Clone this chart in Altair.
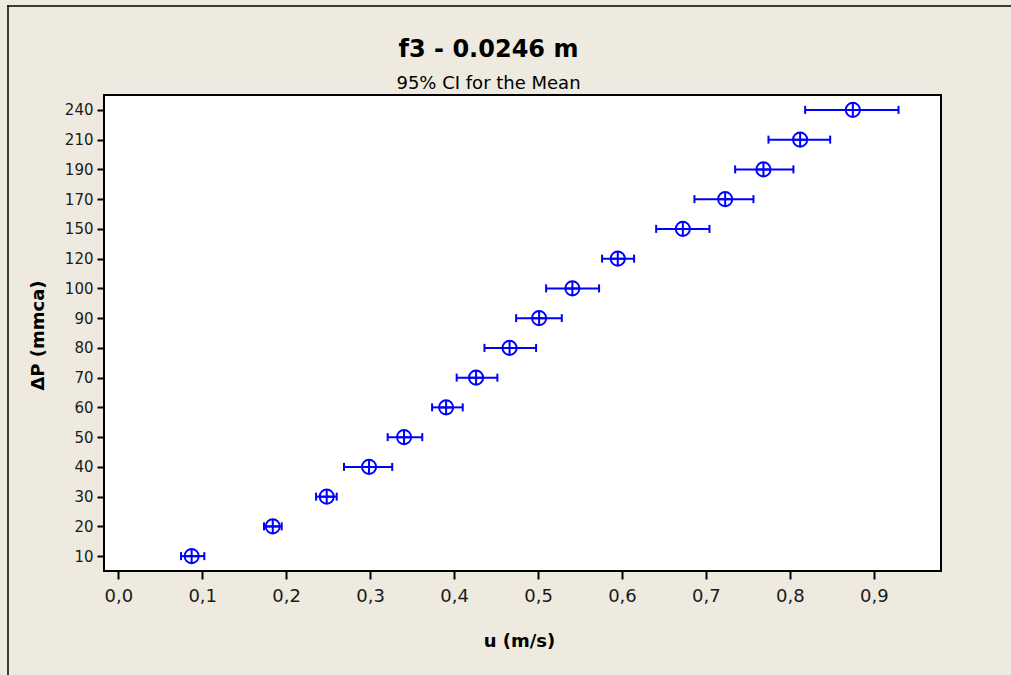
import altair as alt
import pandas as pd

# Delta P levels (mmca) and 95% CI of mean velocity u (m/s)
dp_levels = [10, 20, 30, 40, 50, 60, 70, 80, 90, 100, 120, 150, 170, 190, 210, 240]
u_mean = [0.0874, 0.1840, 0.2483, 0.2987, 0.3404, 0.3905, 0.4262, 0.4661,
          0.5013, 0.5409, 0.5950, 0.6725, 0.7229, 0.7685, 0.8122, 0.8750]
u_low = [0.0747, 0.1736, 0.2356, 0.2689, 0.3209, 0.3738, 0.4031, 0.4362,
         0.4739, 0.5096, 0.5763, 0.6407, 0.6863, 0.7348, 0.7745, 0.8182]
u_high = [0.1025, 0.1947, 0.2602, 0.3263, 0.3621, 0.4103, 0.4516, 0.4977,
          0.5283, 0.5727, 0.6144, 0.7042, 0.7566, 0.8042, 0.8480, 0.9294]
x_ticks = [0.0, 0.1, 0.2, 0.3, 0.4, 0.5, 0.6, 0.7, 0.8, 0.9]

df = pd.DataFrame({"dp": dp_levels, "mean": u_mean, "lo": u_low, "hi": u_high})

BLUE = "#0000FF"
FONT = "DejaVu Sans"
W, H = 837, 476

xscale = alt.Scale(domain=[-0.017, 0.98], nice=False, zero=False)
xaxis = alt.Axis(
    values=x_ticks,
    labelExpr="replace(format(datum.value, '.1f'), '.', ',')",
    grid=False, domain=False,
    tickSize=8, tickWidth=2, tickColor="black",
    labelFont=FONT, labelFontSize=18, labelColor="#1a1a1a",
    labelBaseline="middle", labelPadding=17,
    title="u (m/s)", titleFont=FONT, titleFontSize=18, titleFontWeight="bold",
    titleColor="black", titleBaseline="middle", titleAlign="center",
    titleX=415, titleY=70,
)
yaxis = alt.Axis(
    grid=False, domain=False,
    tickSize=7, tickWidth=2, tickColor="black",
    labelFont=FONT, labelFontSize=15, labelColor="#1a1a1a", labelPadding=4,
    title="ΔP (mmca)", titleFont=FONT, titleFontSize=18, titleFontWeight="bold",
    titleColor="black", titleAngle=-90, titleBaseline="middle", titleAlign="center",
    titleX=-66, titleY=240,
)

Y = alt.Y("dp:O", sort="descending",
          scale=alt.Scale(type="point", padding=0.5), axis=yaxis)

base = alt.Chart(df).encode(y=Y)

bars = base.mark_rule(color=BLUE, strokeWidth=2).encode(
    x=alt.X("lo:Q", scale=xscale, axis=xaxis), x2="hi:Q")
cap_lo = base.mark_tick(color=BLUE, thickness=2, size=8, opacity=1).encode(
    x=alt.X("lo:Q", scale=xscale, axis=xaxis))
cap_hi = base.mark_tick(color=BLUE, thickness=2, size=8, opacity=1).encode(
    x=alt.X("hi:Q", scale=xscale, axis=xaxis))
circ = base.mark_point(shape="circle", size=200, strokeWidth=2, color=BLUE,
                       filled=False, opacity=1).encode(
    x=alt.X("mean:Q", scale=xscale, axis=xaxis))
cross = base.mark_point(shape="M-1,0L1,0M0,-1L0,1", size=200, strokeWidth=2,
                        color=BLUE, filled=False, opacity=1).encode(
    x=alt.X("mean:Q", scale=xscale, axis=xaxis))

# outer figure frame (left and top edges only, as in the reference)
frame_df = pd.DataFrame({"k": [0]})
frame_v = alt.Chart(frame_df).mark_rect(color="black", strokeWidth=0).encode(
    x=alt.value(-96.75), x2=alt.value(-95.25), y=alt.value(-89.75), y2=alt.value(H + 104))
frame_h = alt.Chart(frame_df).mark_rect(color="black", strokeWidth=0).encode(
    x=alt.value(-96.75), x2=alt.value(W + 70), y=alt.value(-89.75), y2=alt.value(-88.25))

chart = alt.layer(bars, cap_lo, cap_hi, circ, cross, frame_v, frame_h).properties(
    width=W, height=H,
    title=alt.TitleParams(
        text="f3 - 0.0246 m", subtitle="95% CI for the Mean",
        anchor="middle", frame="group", font=FONT, fontSize=24, fontWeight="bold",
        color="black", subtitleFont=FONT, subtitleFontSize=18, subtitleColor="black",
        subtitlePadding=13, offset=-88, dx=-34,
    ),
    autosize=alt.AutoSizeParams(type="none"),
    padding={"left": 104, "top": 95, "right": 70, "bottom": 104},
    background="#EEEADF",
).configure_view(
    stroke="black", strokeWidth=2, fill="white"
)

chart.save("out.html", embed_options={"renderer": "svg", "actions": False})
